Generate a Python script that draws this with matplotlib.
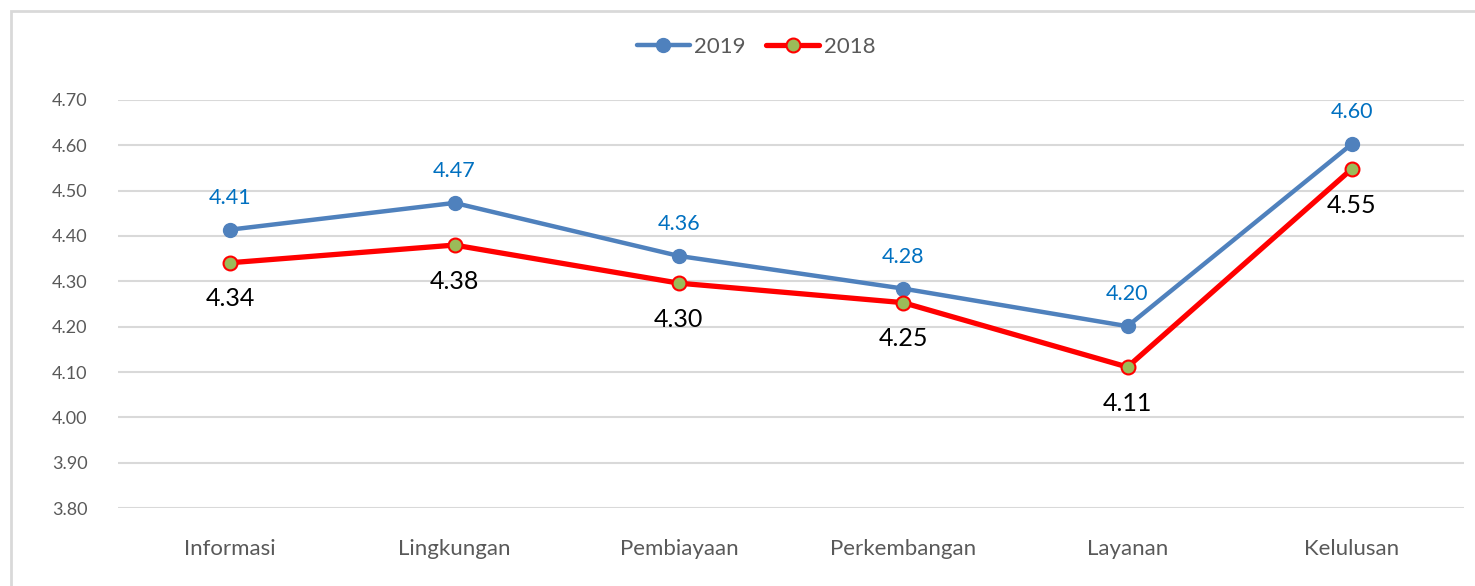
from matplotlib import pyplot as plt
from matplotlib.patches import Rectangle
import numpy as np

# Data
categories = ['Informasi', 'Lingkungan', 'Pembiayaan', 'Perkembangan', 'Layanan', 'Kelulusan']
values_2019 = [4.414, 4.473, 4.356, 4.284, 4.201, 4.603]
values_2018 = [4.341, 4.380, 4.296, 4.253, 4.111, 4.548]
y_ticks = [3.80, 3.90, 4.00, 4.10, 4.20, 4.30, 4.40, 4.50, 4.60, 4.70]


def main():
    plt.rcParams['font.family'] = ['Lato', 'DejaVu Sans']
    fig = plt.figure(figsize=(14.75, 5.86), dpi=100)
    ax = fig.add_axes([118 / 1475, 1 - 508 / 586, (1464 - 118) / 1475, 408 / 586])

    x = np.arange(len(categories))

    # Chart border like the office chart frame
    fig.patches.append(Rectangle((11 / 1475, -0.1), 1.2, 1.1 - 11 / 586,
                                 transform=fig.transFigure, fill=False,
                                 edgecolor='#D9D9D9', linewidth=2))

    l1, = ax.plot(x, values_2019, color='#4F81BD', linewidth=3.2, marker='o',
                  markersize=10, markerfacecolor='#4F81BD', markeredgecolor='#4F81BD',
                  label='2019', solid_capstyle='round', zorder=3)
    l2, = ax.plot(x, values_2018, color='#FF0000', linewidth=3.8, marker='o',
                  markersize=10, markerfacecolor='#9BBB59', markeredgecolor='#FF0000',
                  markeredgewidth=1.5, label='2018', solid_capstyle='round', zorder=4)

    # Data labels
    for xi, v in zip(x, values_2019):
        ax.annotate('{:.2f}'.format(v), (xi, v), xytext=(0, 23), textcoords='offset points',
                    ha='center', va='center', fontsize=15.5, color='#0070C0')
    for xi, v in zip(x, values_2018):
        ax.annotate('{:.2f}'.format(v), (xi, v), xytext=(0, -26), textcoords='offset points',
                    ha='center', va='center', fontsize=18, color='#000000')

    ax.set_xlim(-0.5, len(categories) - 0.5)
    ax.set_ylim(3.80, 4.70)
    ax.set_yticks(y_ticks)
    ax.set_yticklabels(['{:.2f}'.format(t) for t in y_ticks])
    ax.set_xticks(x)
    ax.set_xticklabels(categories)
    ax.tick_params(axis='both', length=0, labelcolor='#595959')
    ax.tick_params(axis='y', pad=22, labelsize=13)
    ax.tick_params(axis='x', pad=22, labelsize=16)
    ax.grid(axis='y', color='#D9D9D9', linewidth=1.5)
    ax.set_axisbelow(True)
    for s in ax.spines.values():
        s.set_visible(False)

    fig.legend(handles=[l1, l2], loc='center', bbox_to_anchor=(756 / 1475, 1 - 47 / 586),
               ncol=2, frameon=False, fontsize=16, labelcolor='#595959',
               handlelength=2.4, columnspacing=0.9, handletextpad=0.2)

    fig.savefig('out.png', dpi=100)


if __name__ == "__main__":
    main()
